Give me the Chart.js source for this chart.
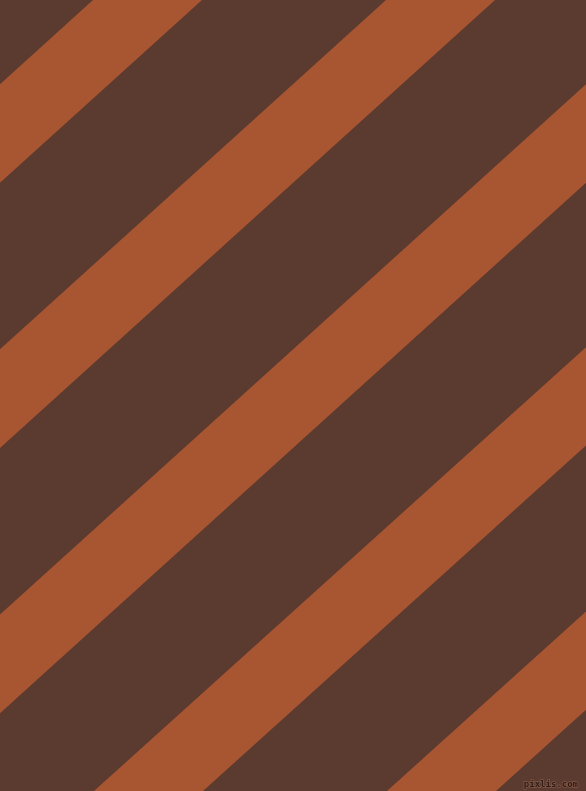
<!DOCTYPE html>
<html>
<head>
<meta charset="utf-8">
<script src="https://cdn.jsdelivr.net/npm/chart.js@4"></script>
<style>
  html, body { margin: 0; padding: 0; background: #5b3a2f; }
  #wrap { width: 586px; height: 791px; position: relative; }
</style>
</head>
<body>
<div id="wrap"><canvas id="myChart"></canvas></div>
<script>
// stripe edges (x where the upper edge meets the top and bottom rows)
const stripeTopX = [93, 386, 679, 971, 1264];
const stripeBottomX = [-781, -488, -195, 94, 387];
const stripeWidth = 109;
const frameW = 586;
const frameH = 791;

const bgColor = '#5b3a2f';
const stripeColor = '#a85632';

function stripePoints(i) {
    return [
        { x: stripeTopX[i], y: 0 },
        { x: stripeTopX[i] + stripeWidth, y: 0 },
        { x: stripeBottomX[i] + stripeWidth, y: frameH },
        { x: stripeBottomX[i], y: frameH },
        { x: stripeTopX[i], y: 0 }
    ];
}

const background = {
    id: 'background',
    beforeDraw(chart) {
        const c = chart.ctx;
        c.save();
        c.fillStyle = bgColor;
        c.fillRect(0, 0, chart.width, chart.height);
        c.restore();
    },
    afterDraw(chart) {
        const c = chart.ctx;
        c.save();
        c.font = 'bold 9px "DejaVu Sans Mono"';
        c.textAlign = 'right';
        c.textBaseline = 'bottom';
        c.lineWidth = 1.5;
        c.strokeStyle = 'rgba(140,95,75,0.8)';
        c.strokeText('pixlis.com', chart.width - 8, chart.height - 2);
        c.fillStyle = '#2e1b15';
        c.fillText('pixlis.com', chart.width - 8, chart.height - 2);
        c.restore();
    }
};

const ctx = document.getElementById('myChart').getContext('2d');
new Chart(ctx, {
    type: 'line',
    data: {
        datasets: stripeTopX.map((_, i) => ({
            data: stripePoints(i),
            fill: 'shape',
            backgroundColor: stripeColor,
            borderColor: stripeColor,
            borderWidth: 0,
            pointRadius: 0,
            tension: 0
        }))
    },
    options: {
        responsive: true,
        maintainAspectRatio: false,
        animation: false,
        layout: { padding: 0 },
        plugins: { legend: { display: false }, tooltip: { enabled: false } },
        scales: {
            x: { type: 'linear', min: 0, max: frameW, display: false },
            y: { type: 'linear', min: 0, max: frameH, reverse: true, display: false }
        }
    },
    plugins: [background]
});
</script>
</body>
</html>
